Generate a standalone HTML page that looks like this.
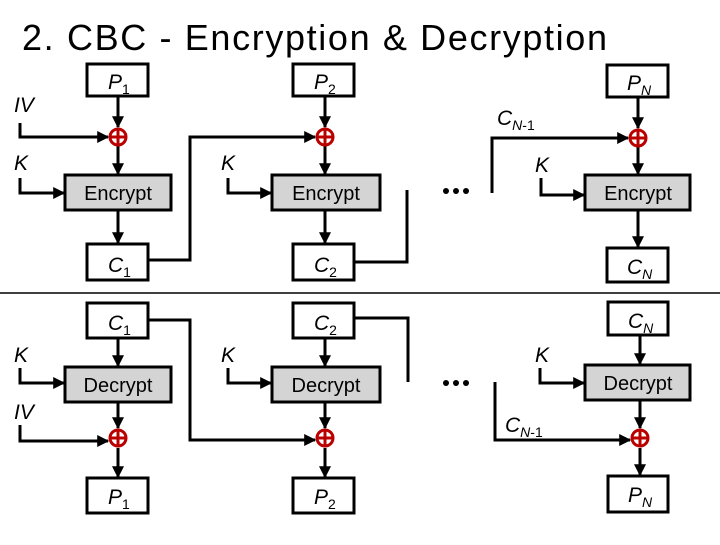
<!DOCTYPE html>
<html><head><meta charset="utf-8"><style>html,body{margin:0;padding:0;background:#fff}</style></head>
<body>
<svg width="720" height="540" viewBox="0 0 720 540" xmlns="http://www.w3.org/2000/svg" font-family="Liberation Sans, sans-serif">
<defs>
<marker id="a" viewBox="0 0 10 10" refX="9" refY="5" markerWidth="4" markerHeight="4" orient="auto"><path d="M0,0 L10,5 L0,10 z" fill="#000"/></marker>
<g id="x"><circle r="8" fill="#fff" stroke="#b00" stroke-width="3"/><path d="M-8,0H8M0,-8V8" stroke="#b00" stroke-width="3"/></g>
</defs>
<text x="22" y="50" font-size="36" textLength="585" fill="#000">2. CBC - Encryption &amp; Decryption</text>
<line x1="0" y1="293" x2="720" y2="293" stroke="#000" stroke-width="1.5"/>
<g stroke="#000" stroke-width="3" fill="none">
<!-- top boxes -->
<rect x="87" y="64" width="61" height="32" fill="#fff"/>
<rect x="293" y="64" width="61" height="32" fill="#fff"/>
<rect x="607" y="65" width="61" height="32" fill="#fff"/>
<rect x="65" y="175" width="106" height="35" fill="#d4d4d4"/>
<rect x="272" y="175" width="108" height="35" fill="#d4d4d4"/>
<rect x="585" y="175" width="105" height="35" fill="#d4d4d4"/>
<rect x="87" y="244" width="61" height="36" fill="#fff"/>
<rect x="293" y="244" width="61" height="36" fill="#fff"/>
<rect x="607" y="248" width="61" height="34" fill="#fff"/>
<!-- top arrows -->
<g marker-end="url(#a)">
<path d="M118,96V127"/><path d="M118,146V174"/><path d="M118,210V243"/>
<path d="M325,96V127"/><path d="M325,146V174"/><path d="M325,210V243"/>
<path d="M638,97V128"/><path d="M638,147V174"/><path d="M638,210V247"/>
<path d="M20,123V137H108"/><path d="M20,178V193H64"/>
<path d="M148,260H190V137H315"/><path d="M228,178V193H271"/>
<path d="M492,193V138H628"/><path d="M541,178V195H584"/>
</g>
<path d="M354,262H407V190"/>
<!-- bottom boxes -->
<rect x="87" y="303" width="61" height="35" fill="#fff"/>
<rect x="293" y="303" width="61" height="35" fill="#fff"/>
<rect x="608" y="302" width="60" height="33" fill="#fff"/>
<rect x="65" y="367" width="106" height="35" fill="#d4d4d4"/>
<rect x="272" y="367" width="108" height="35" fill="#d4d4d4"/>
<rect x="585" y="365" width="105" height="35" fill="#d4d4d4"/>
<rect x="87" y="478" width="61" height="35" fill="#fff"/>
<rect x="293" y="478" width="61" height="35" fill="#fff"/>
<rect x="608" y="476" width="60" height="36" fill="#fff"/>
<g marker-end="url(#a)">
<path d="M118,338V366"/><path d="M118,402V428"/><path d="M118,448V477"/>
<path d="M325,338V366"/><path d="M325,402V428"/><path d="M325,448V477"/>
<path d="M640,335V364"/><path d="M640,400V428"/><path d="M640,448V475"/>
<path d="M20,368V383H64"/><path d="M20,425V441H108"/>
<path d="M148,320H190V440H315"/><path d="M228,368V383H271"/>
<path d="M495,382V440H630"/><path d="M540,368V383H584"/>
</g>
<path d="M354,318H408V382"/>
</g>
<use href="#x" x="118" y="137"/><use href="#x" x="325" y="137"/><use href="#x" x="638" y="138"/>
<use href="#x" x="118" y="438"/><use href="#x" x="325" y="438"/><use href="#x" x="640" y="438"/>
<g fill="#000">
<circle cx="446" cy="191" r="3"/><circle cx="456" cy="191" r="3"/><circle cx="466" cy="191" r="3"/>
<circle cx="446" cy="383" r="3"/><circle cx="456" cy="383" r="3"/><circle cx="466" cy="383" r="3"/>
</g>
<g font-size="21" font-style="italic" fill="#000">
<text x="108" y="89">P<tspan font-size="14" font-style="normal" dy="5">1</tspan></text>
<text x="314" y="89">P<tspan font-size="14" font-style="normal" dy="5">2</tspan></text>
<text x="627" y="90">P<tspan font-size="14" dy="5">N</tspan></text>
<text x="108" y="272">C<tspan font-size="14" font-style="normal" dy="5">1</tspan></text>
<text x="314" y="272">C<tspan font-size="14" font-style="normal" dy="5">2</tspan></text>
<text x="627" y="274">C<tspan font-size="14" dy="5">N</tspan></text>
<text x="108" y="330">C<tspan font-size="14" font-style="normal" dy="5">1</tspan></text>
<text x="314" y="330">C<tspan font-size="14" font-style="normal" dy="5">2</tspan></text>
<text x="628" y="328">C<tspan font-size="14" dy="5">N</tspan></text>
<text x="108" y="504">P<tspan font-size="14" font-style="normal" dy="5">1</tspan></text>
<text x="314" y="504">P<tspan font-size="14" font-style="normal" dy="5">2</tspan></text>
<text x="628" y="502">P<tspan font-size="14" dy="5">N</tspan></text>
<text x="497" y="125">C<tspan font-size="14" dy="5">N</tspan><tspan font-size="14" font-style="normal">-1</tspan></text>
<text x="505" y="432">C<tspan font-size="14" dy="5">N</tspan><tspan font-size="14" font-style="normal">-1</tspan></text>
<text x="14" y="112">IV</text><text x="14" y="170">K</text>
<text x="221" y="170">K</text><text x="535" y="172">K</text>
<text x="14" y="362">K</text><text x="14" y="419">IV</text>
<text x="221" y="362">K</text><text x="535" y="362">K</text>
</g>
<g font-size="20" fill="#000" text-anchor="middle">
<text x="118" y="200">Encrypt</text><text x="326" y="200">Encrypt</text><text x="638" y="200">Encrypt</text>
<text x="118" y="392">Decrypt</text><text x="326" y="392">Decrypt</text><text x="638" y="390">Decrypt</text>
</g>
</svg>
</body></html>
